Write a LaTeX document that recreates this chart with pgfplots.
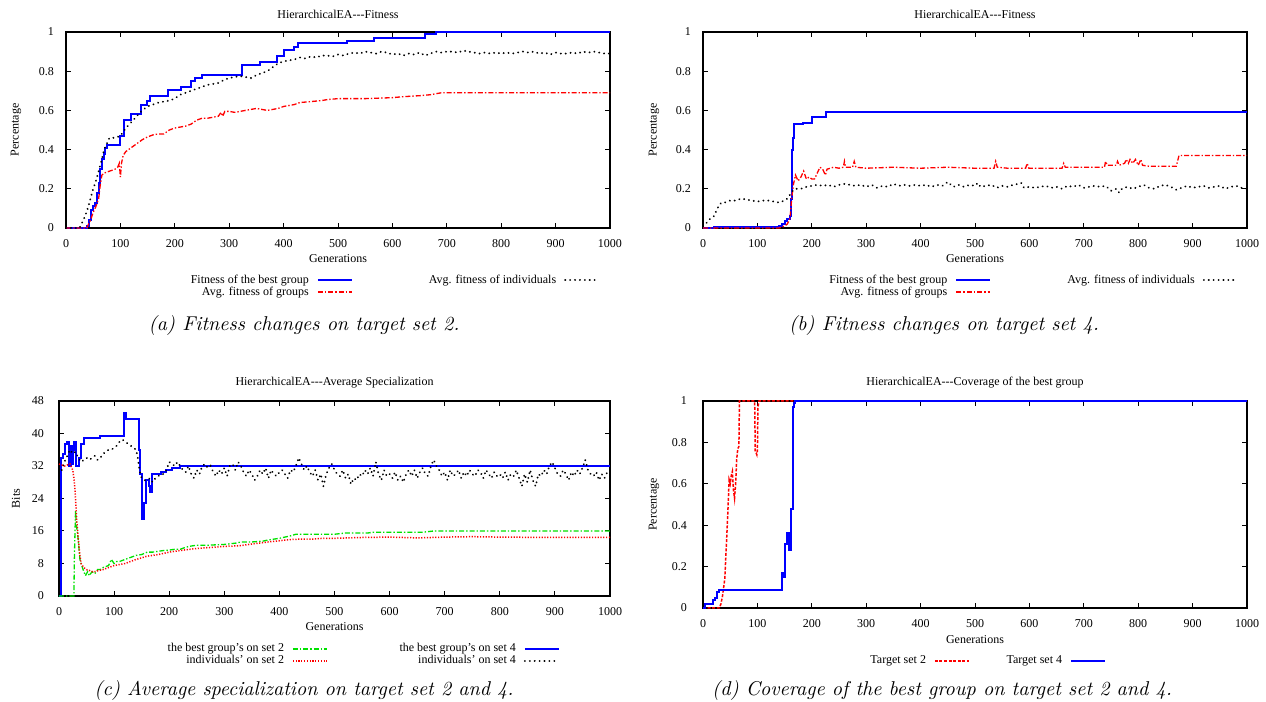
\documentclass[border=0pt]{standalone}
\usepackage{fontspec}
\usepackage{pgfplots}
\pgfplotsset{compat=1.18}
\newfontfamily\gpserif{Liberation Serif}
\newcommand\gpfont{\gpserif\fontsize{6}{7}\selectfont}
\definecolor{gpgreen}{RGB}{0,225,0}
\pgfplotsset{
  legend image code/.code={\draw[#1] (0pt,0pt) -- (17pt,0pt);},
  gp/.style={
    scale only axis,
    xmin=0, xmax=1000, xtick={0,100,...,1000},
    clip=false,
    axis line style={line width=0.8pt},
    tick style={black, line width=0.5pt},
    major tick length=2.5pt,
    tick align=inside,
    minor tick num=0,
    /pgf/number format/assume math mode=true,
    /pgf/number format/1000 sep={},
    ticklabel style={font=\gpfont},
    xticklabel style={yshift=-2pt},
    yticklabel style={xshift=-2.5pt},
    label style={font=\gpfont},
    title style={font=\gpfont, at={(axis description cs:0.5,1)}, anchor=center, yshift=3pt},
    xlabel style={at={(axis description cs:0.5,0)}, anchor=center, yshift=-15.5pt},
    legend plot pos=right,
    legend cell align=right,
    legend columns=2,
    legend style={draw=none, fill=none, inner sep=0pt, outer sep=0pt, font=\gpfont,
      nodes={inner sep=0pt, text height=4.5pt, text depth=1.5pt}, row sep=0pt},
  },
  bestS/.style={blue, line width=1pt},
  grpS/.style={red, line width=0.65pt, dash pattern=on 2.5pt off 1pt on 0.7pt off 1pt},
  indS/.style={black, line width=1pt, line cap=round, dash pattern=on 0.05pt off 2.4pt},
  grnS/.style={gpgreen, line width=0.65pt, dash pattern=on 2.5pt off 1pt on 0.7pt off 1pt},
  rdotS/.style={red, line width=0.75pt, dash pattern=on 0.6pt off 0.8pt},
  rdashS/.style={red, line width=0.75pt, dash pattern=on 1.5pt off 0.8pt},
}
\begin{document}
\begin{tikzpicture}
\useasboundingbox (0,0) rectangle (633pt,351pt);
% ---------------- (a)
\begin{axis}[gp, at={(33pt,237pt)}, anchor=south west, width=272pt, height=98pt,
  ymin=0, ymax=1, ytick={0,0.2,0.4,0.6,0.8,1},
  title={HierarchicalEA-\kern0pt-\kern0pt-Fitness}, xlabel={Generations}, ylabel={Percentage},
  ylabel style={at={(axis description cs:-0.092,0.5)}, anchor=center},
  legend style={at={(axis description cs:0.982,-0.235)}, anchor=north east,
    /tikz/column 1/.style={column sep=4pt}, /tikz/column 2/.style={column sep=38pt}, /tikz/column 3/.style={column sep=4pt}}]
\addlegendimage{bestS}\addlegendentry{Fitness of the best group}
\addlegendimage{indS}\addlegendentry{Avg. fitness of individuals}
\addlegendimage{grpS}\addlegendentry{Avg. fitness of groups}
\addplot[bestS, const plot, forget plot] coordinates {
(0,0) (38,0.01) (42,0.04) (46,0.09) (50,0.11) (54,0.13) (57,0.18) (60,0.23) (63,0.30) (66,0.35) (69,0.38) (72,0.41) (76,0.424)
(100,0.47) (106,0.55) (120,0.58) (137,0.627) (148,0.646) (155,0.675) (188,0.705) (212,0.72) (229,0.75) (238,0.765) (250,0.782)
(323,0.83) (356,0.847) (388,0.876) (401,0.906) (420,0.923) (426,0.942) (516,0.954) (566,0.971) (660,0.988) (681,1.0) (1000,1.0)};
\addplot[grpS, forget plot] coordinates {
(0,0) (38,0) (45,0.04) (50,0.08) (55,0.11) (60,0.15) (63,0.22) (66,0.27) (70,0.28) (80,0.29) (90,0.30) (95,0.31) (98,0.33) (100,0.26) (102,0.33)
(105,0.37) (110,0.39) (115,0.40) (120,0.41) (130,0.43) (140,0.45) (150,0.465) (160,0.475) (170,0.48) (180,0.48) (190,0.50) (200,0.51)
(210,0.515) (220,0.52) (230,0.53) (240,0.55) (250,0.56) (260,0.56) (270,0.565) (280,0.57) (285,0.59) (288,0.57) (292,0.595) (300,0.595)
(310,0.59) (320,0.595) (330,0.60) (340,0.605) (350,0.61) (360,0.605) (370,0.60) (380,0.605) (390,0.61) (400,0.62) (410,0.625) (420,0.63)
(430,0.64) (450,0.645) (470,0.65) (480,0.655) (500,0.66) (550,0.66) (600,0.665) (620,0.67) (650,0.675) (670,0.68) (690,0.69) (1000,0.69)};
\addplot[indS, forget plot] coordinates {
(0,0) (25,0) (30,0.03) (35,0.06) (40,0.10) (45,0.15) (50,0.20) (55,0.24) (60,0.29) (65,0.34) (70,0.40) (75,0.43) (80,0.46) (90,0.46)
(100,0.47) (110,0.51) (120,0.54) (130,0.57) (140,0.60) (150,0.62) (160,0.63) (170,0.64) (180,0.645) (190,0.65) (200,0.66) (210,0.68)
(220,0.69) (230,0.70) (240,0.71) (250,0.72) (260,0.73) (270,0.735) (280,0.74) (290,0.755) (300,0.765) (310,0.77) (320,0.775) (330,0.77)
(340,0.765) (350,0.78) (360,0.79) (370,0.80) (380,0.82) (390,0.84) (400,0.85) (410,0.855) (420,0.86) (430,0.87) (440,0.865) (450,0.875)
(460,0.87) (470,0.88) (480,0.88) (490,0.875) (500,0.885) (510,0.88) (520,0.89) (530,0.895) (540,0.89) (550,0.90) (560,0.895) (570,0.89)
(580,0.90) (590,0.895) (600,0.885) (610,0.89) (620,0.88) (630,0.89) (640,0.885) (650,0.895) (660,0.88) (670,0.89) (680,0.90) (690,0.895)
(700,0.90) (710,0.90) (720,0.895) (730,0.905) (740,0.90) (750,0.895) (760,0.89) (770,0.895) (780,0.89) (790,0.895) (800,0.89) (810,0.895)
(820,0.89) (830,0.895) (840,0.90) (850,0.895) (860,0.90) (870,0.89) (880,0.895) (890,0.885) (900,0.895) (910,0.89) (920,0.89) (930,0.895)
(940,0.89) (950,0.90) (960,0.895) (970,0.90) (980,0.895) (990,0.89) (1000,0.89)};
\end{axis}
% ---------------- (b)
\begin{axis}[gp, at={(351.5pt,237pt)}, anchor=south west, width=272pt, height=98pt,
  ymin=0, ymax=1, ytick={0,0.2,0.4,0.6,0.8,1},
  title={HierarchicalEA-\kern0pt-\kern0pt-Fitness}, xlabel={Generations}, ylabel={Percentage},
  ylabel style={at={(axis description cs:-0.090,0.5)}, anchor=center},
  legend style={at={(axis description cs:0.985,-0.235)}, anchor=north east,
    /tikz/column 1/.style={column sep=4pt}, /tikz/column 2/.style={column sep=38pt}, /tikz/column 3/.style={column sep=4pt}}]
\addlegendimage{bestS}\addlegendentry{Fitness of the best group}
\addlegendimage{indS}\addlegendentry{Avg. fitness of individuals}
\addlegendimage{grpS}\addlegendentry{Avg. fitness of groups}
\addplot[bestS, const plot, forget plot] coordinates {
(0,0) (20,0.005) (140,0.01) (145,0.02) (150,0.035) (155,0.045) (160,0.06) (162,0.15) (164,0.40) (166,0.46) (168,0.53) (183,0.535)
(201,0.565) (227,0.59) (1000,0.59)};
\addplot[grpS, forget plot] coordinates {
(0,0) (140,0) (150,0.01) (155,0.02) (160,0.05) (163,0.15) (166,0.22) (170,0.27) (175,0.24) (180,0.26) (185,0.29) (190,0.25) (195,0.26)
(200,0.25) (205,0.25) (210,0.28) (215,0.31) (220,0.30) (225,0.27) (228,0.30) (240,0.31) (250,0.305) (258,0.31) (260,0.34) (262,0.31)
(275,0.31) (278,0.34) (281,0.31) (300,0.305) (350,0.31) (400,0.305) (450,0.31) (500,0.305) (535,0.305) (538,0.34) (541,0.31) (560,0.305)
(593,0.305) (596,0.33) (599,0.305) (660,0.305) (663,0.33) (666,0.31) (700,0.31) (738,0.31) (740,0.34) (743,0.32) (760,0.32) (762,0.34)
(765,0.32) (775,0.33) (778,0.35) (782,0.33) (785,0.35) (790,0.33) (795,0.35) (800,0.32) (805,0.35) (808,0.32) (820,0.315) (870,0.315)
(875,0.37) (1000,0.37)};
\addplot[indS, forget plot] coordinates {
(0,0.01) (5,0.02) (10,0.04) (15,0.05) (20,0.06) (25,0.09) (30,0.12) (35,0.13) (40,0.13) (50,0.14) (60,0.14) (70,0.15) (80,0.145) (90,0.14)
(100,0.135) (110,0.14) (120,0.14) (130,0.135) (140,0.13) (150,0.14) (155,0.15) (160,0.17) (165,0.19) (170,0.20) (180,0.20) (190,0.21)
(200,0.215) (210,0.22) (220,0.215) (230,0.22) (240,0.21) (250,0.22) (260,0.225) (270,0.22) (280,0.215) (290,0.22) (300,0.21) (310,0.22)
(320,0.205) (330,0.215) (340,0.21) (350,0.225) (360,0.215) (370,0.22) (380,0.215) (390,0.22) (400,0.215) (410,0.22) (420,0.21) (430,0.22)
(440,0.215) (450,0.235) (460,0.21) (470,0.22) (480,0.21) (490,0.22) (500,0.215) (505,0.23) (510,0.21) (520,0.215) (530,0.22) (540,0.205)
(550,0.215) (560,0.21) (570,0.22) (580,0.225) (585,0.23) (590,0.205) (600,0.21) (610,0.205) (620,0.21) (630,0.215) (640,0.205) (650,0.21)
(660,0.20) (670,0.215) (680,0.21) (690,0.22) (700,0.205) (710,0.21) (720,0.215) (730,0.21) (740,0.215) (750,0.19) (760,0.20) (765,0.18)
(770,0.20) (780,0.21) (790,0.20) (800,0.21) (810,0.22) (820,0.205) (830,0.20) (840,0.215) (850,0.22) (860,0.21) (870,0.195) (880,0.205)
(890,0.215) (900,0.205) (910,0.21) (920,0.215) (930,0.205) (940,0.21) (950,0.215) (960,0.20) (970,0.21) (980,0.215) (990,0.205) (1000,0.20)};
\end{axis}
% ---------------- (c)
\begin{axis}[gp, at={(29.5pt,53pt)}, anchor=south west, width=275.5pt, height=97.5pt,
  ymin=0, ymax=48, ytick={0,8,16,24,32,40,48},
  yticklabel style={xshift=-1.5pt},
  title={HierarchicalEA-\kern0pt-\kern0pt-Average Specialization}, xlabel={Generations}, ylabel={Bits},
  ylabel style={at={(axis description cs:-0.078,0.5)}, anchor=center},
  legend style={at={(axis description cs:0.909,-0.241)}, anchor=north east,
    /tikz/column 1/.style={column sep=4pt}, /tikz/column 2/.style={column sep=36pt}, /tikz/column 3/.style={column sep=4pt}}]
\addlegendimage{grnS}\addlegendentry{the best group’s on set 2}
\addlegendimage{bestS}\addlegendentry{the best group’s on set 4}
\addlegendimage{rdotS}\addlegendentry{individuals’ on set 2}
\addlegendimage{indS}\addlegendentry{individuals’ on set 4}
\addplot[bestS, const plot, forget plot] coordinates {
(0,0) (3,34) (8,35) (10,37.5) (15,38) (18,37.5) (19,32) (21,37) (24,32.5) (26,36) (28,38) (30,32) (34,32) (36,34) (40,37.5) (45,39)
(75,39.5) (118,45) (122,43.5) (145,36) (147,30) (150,19) (154,23) (158,28.5) (163,27) (165,25.5) (168,30) (185,30.5) (195,31) (205,31.5)
(220,32) (1000,32)};
\addplot[indS, forget plot] coordinates {
(0,30) (5,31) (10,33) (15,34.5) (20,36) (25,35) (30,35.5) (35,34) (40,33) (45,33.5) (50,34) (55,33.5) (60,34) (65,34.5) (70,33.5) (75,34)
(80,35) (85,35.5) (90,36) (95,36) (100,36.5) (105,37) (110,38) (115,38.5) (120,38) (125,37.5) (130,37) (135,36.5) (140,36) (143,34) (146,31)
(150,29) (155,28.5) (160,28.5) (165,29) (170,28) (175,29) (180,29.5) (185,30) (190,30) (195,31) (200,33) (205,32.5) (210,32) (215,33)
(220,32) (225,31) (230,30.5) (235,32) (240,30) (245,29) (250,31) (255,30) (260,32) (265,32.5) (270,31.5) (275,32) (280,30.5) (285,29.5)
(290,31) (295,30) (300,31.5) (305,29.5) (310,32) (315,32.5) (320,31) (325,33) (330,32) (335,30.5) (340,29.5) (345,31) (350,30) (355,28.5)
(360,29.5) (365,31) (370,30) (375,31.5) (380,29) (385,31) (390,30) (395,29.5) (400,30.5) (405,31) (410,30) (415,29) (420,31) (425,30.5)
(430,32) (435,34) (440,32.5) (445,31) (450,32) (455,30.5) (460,29.5) (465,31) (470,28.5) (475,30) (480,27) (485,30) (490,31.5) (495,32.5)
(500,31) (505,30) (510,29.5) (515,31) (520,29) (525,30) (530,27.5) (535,29) (540,28.5) (545,30) (550,29.5) (555,31) (560,30) (565,31.5)
(570,29.5) (575,33) (580,30) (585,28.5) (590,31) (595,29.5) (600,30) (605,29) (610,30.5) (615,28.5) (620,29.5) (625,28) (630,30) (635,31)
(640,29.5) (645,31) (650,29) (655,30.5) (660,31.5) (665,30) (670,29.5) (675,32) (680,33.5) (685,32) (690,31) (695,29.5) (700,30.5)
(705,28.5) (710,31) (715,29.5) (720,30) (725,31) (730,29) (735,30.5) (740,29.5) (745,31) (750,30) (755,29.5) (760,31) (765,30.5) (770,29)
(775,31) (780,30) (785,29) (790,30.5) (795,29.5) (800,30) (805,29) (810,30.5) (815,28.5) (820,30) (825,29.5) (830,31) (835,29) (840,27)
(845,30) (850,28) (855,31) (860,28.5) (865,27) (870,30) (875,29.5) (880,31) (885,30) (890,32) (895,33) (900,31.5) (905,30) (910,29.5)
(915,31) (920,30) (925,28.5) (930,30.5) (935,29.5) (940,31) (945,30) (950,31.5) (955,33.5) (960,31) (965,30) (970,29.5) (975,30.5)
(980,28.5) (985,30) (990,29) (995,30.5) (1000,31)};
\addplot[grnS, forget plot] coordinates {
(0,0) (27,0) (28,10) (30,21) (32,17) (34,15) (36,12) (38,9) (40,8) (45,6) (48,5) (52,6) (55,5) (60,6) (65,5.5) (70,6.5) (75,6.5) (80,7)
(90,7.5) (95,9) (100,8) (105,8.5) (110,8.5) (120,9) (130,9.5) (140,10) (150,10.2) (160,10.8) (170,10.8) (180,11) (190,11.2) (200,11.3)
(210,11.5) (220,11.5) (230,12) (240,12.3) (250,12.5) (270,12.5) (300,12.7) (320,13) (330,13.3) (350,13.3) (370,13.5) (380,13.8) (400,14.2)
(410,14.5) (420,14.8) (430,15.2) (450,15.2) (500,15.2) (520,15.5) (560,15.5) (570,15.7) (660,15.7) (680,16) (1000,16)};
\addplot[rdotS, forget plot] coordinates {
(0,32.5) (10,32) (20,32.5) (25,31) (28,28) (30,24) (32,19) (35,14) (38,10) (40,8) (45,7) (50,6.5) (55,6.3) (60,6) (65,6) (70,6.2) (80,6.5)
(90,7) (100,7.5) (120,8) (140,9) (160,9.8) (180,10.2) (200,10.8) (220,11.2) (250,11.7) (280,12) (300,12.2) (330,12.4) (350,12.8) (380,13.3)
(400,13.6) (420,13.9) (440,14) (460,14) (480,14.2) (500,14.2) (550,14.4) (600,14.5) (650,14.3) (700,14.5) (750,14.6) (800,14.5) (900,14.4)
(1000,14.4)};
\end{axis}
% ---------------- (d)
\begin{axis}[gp, at={(351.5pt,47pt)}, anchor=south west, width=272pt, height=103.5pt,
  ymin=0, ymax=1, ytick={0,0.2,0.4,0.6,0.8,1},
  yticklabel style={xshift=-2pt},
  xlabel style={yshift=-0.5pt},
  title={HierarchicalEA-\kern0pt-\kern0pt-Coverage of the best group}, xlabel={Generations}, ylabel={Percentage},
  ylabel style={at={(axis description cs:-0.090,0.5)}, anchor=center},
  legend style={at={(axis description cs:0.741,-0.227)}, anchor=north east,
    /tikz/column 1/.style={column sep=4pt}, /tikz/column 2/.style={column sep=18.5pt}, /tikz/column 3/.style={column sep=4pt}}]
\addlegendimage{rdashS}\addlegendentry{Target set 2}
\addlegendimage{bestS}\addlegendentry{Target set 4}
\addplot[rdashS, forget plot] coordinates {
(0,0) (30,0) (33,0.02) (36,0.06) (38,0.10) (40,0.14) (42,0.25) (45,0.42) (47,0.55) (48,0.62) (50,0.60) (52,0.64) (54,0.66) (56,0.57)
(58,0.53) (60,0.60) (62,0.72) (64,0.77) (66,0.78) (67,1) (95,1) (96,0.76) (99,0.74) (100,0.76) (101,0.97) (103,1) (1000,1)};
\addplot[bestS, const plot, forget plot] coordinates {
(0,0) (3,0.02) (18,0.04) (22,0.05) (25,0.075) (29,0.085) (145,0.17) (148,0.15) (151,0.31) (155,0.36) (159,0.28) (161,0.48) (165,0.97)
(167,0.99) (170,1) (1000,1)};
\end{axis}
% captions
\node[font=\fontsize{10}{12}\selectfont\itshape] at (152pt,188pt) {(a) Fitness changes on target set 2.};
\node[font=\fontsize{10}{12}\selectfont\itshape] at (472pt,188pt) {(b) Fitness changes on target set 4.};
\node[font=\fontsize{10}{12}\selectfont\itshape] at (152pt,5.5pt) {(c) Average specialization on target set 2 and 4.};
\node[font=\fontsize{10}{12}\selectfont\itshape] at (471pt,5.5pt) {(d) Coverage of the best group on target set 2 and 4.};
\end{tikzpicture}
\end{document}
